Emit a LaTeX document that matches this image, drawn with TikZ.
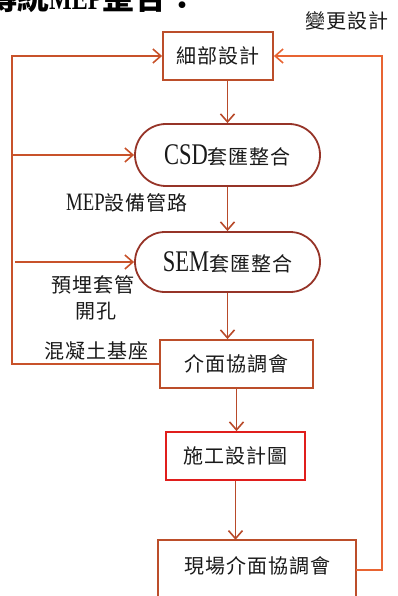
\documentclass[tikz,border=0pt]{standalone}
\usepackage{fontspec}
\setmainfont{Noto Sans CJK TC}
\newfontfamily\cjk{Noto Sans CJK TC}[LetterSpace=5]
\newfontfamily\lat{Liberation Serif}[FakeStretch=0.75]
\usetikzlibrary{arrows.meta,shapes.misc}
\definecolor{cbox}{RGB}{188,78,42}
\definecolor{cpill}{RGB}{150,52,40}
\definecolor{cred}{RGB}{224,30,28}
\definecolor{cleft}{RGB}{200,82,42}
\definecolor{cright}{RGB}{232,100,50}
\definecolor{cdown}{RGB}{184,74,42}
\tikzset{
  bx/.style={draw=cbox, line width=1.8pt, inner sep=0pt, minimum height=48pt},
  pill/.style={draw=cpill, line width=1.8pt, rounded rectangle, rounded rectangle arc length=180, inner sep=0pt},
  lbl/.style={inner sep=0pt, text=black!90, font=\cjk\fontsize{20pt}{24pt}\selectfont},
  arr/.style={line width=1.6pt, -{Straight Barb[length=8pt,width=14pt,line width=1.6pt]}},
}
\begin{document}
\begin{tikzpicture}[x=1pt,y=-1pt]
\path[use as bounding box] (0,0) rectangle (398,596);
\clip (0,0) rectangle (398,596);
% title (cut off at top)
\node[anchor=base west, inner sep=0pt, font=\bfseries\fontsize{32pt}{36pt}\selectfont] (title) at (-15,10) {傳統{\lat\bfseries MEP}整合：};
% nodes
\node[bx, minimum width=110pt, lbl] (d1) at (218,56) {細部設計};
\node[pill, minimum width=185pt, minimum height=62pt, lbl] (csd) at (227.5,155) {{\lat\fontsize{30pt}{30pt}\selectfont CSD}套匯整合};
\node[pill, minimum width=185pt, minimum height=60pt, lbl] (sem) at (227.5,262) {{\lat\fontsize{30pt}{30pt}\selectfont SEM}套匯整合};
\node[bx, minimum width=153pt, lbl] (jm) at (236.5,364) {介面協調會};
\node[bx, draw=cred, minimum width=139pt, lbl] (sg) at (235.5,456) {施工設計圖};
\node[lbl, minimum width=198pt, minimum height=52pt] (xc) at (257,566) {現場介面協調會};
\draw[draw=cbox, line width=1.8pt] ([yshift=-40pt]xc.south west) -- (xc.north west) -- (xc.north east) -- ([yshift=-40pt]xc.south east);
% labels
\node[lbl] (chg) at (347,21) {變更設計};
\node[lbl] (mep) at (127,203) {{\lat\fontsize{25pt}{25pt}\selectfont MEP}設備管路};
\node[lbl] (t1) at (93,285) {預埋套管};
\node[lbl] (t2) at (96,311) {開孔};
\node[lbl] (t3) at (96,351) {混凝土基座};
% helper coordinates
\coordinate (L) at (12,0);
\coordinate (L2) at (15,0);
\coordinate (R) at (382,0);
% vertical flow
\draw[arr, cdown] (csd.north |- d1.south) -- (csd.north);
\draw[arr, cdown] (csd.south) -- (sem.north);
\draw[arr, cdown] (sem.south) -- (sem.south |- jm.north);
\draw[arr, cdown] (jm.south) -- (jm.south |- sg.north);
\draw[arr, cdown] (sg.south) -- (sg.south |- xc.north);
% left loop
\draw[arr, cleft] (jm.west) -- (jm.west -| L) |- (d1.west);
\draw[arr, cleft] (csd.west -| L) -- (csd.west);
\draw[arr, cleft] (sem.west -| L2) -- (sem.west);
% right loop
\draw[arr, cright] ([yshift=-4pt]xc.east) -| (R |- d1.east) -- (d1.east);
\end{tikzpicture}
\end{document}
